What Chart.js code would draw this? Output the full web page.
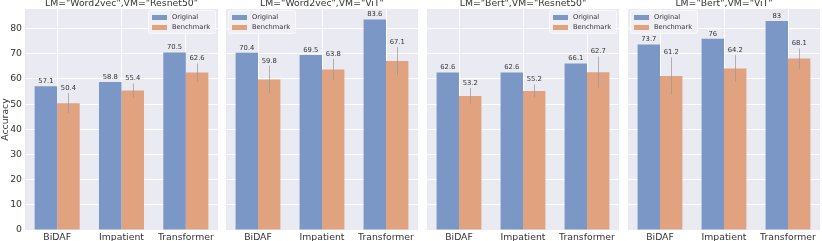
<!DOCTYPE html>
<html>
<head>
<meta charset="utf-8">
<script src="https://cdn.jsdelivr.net/npm/chart.js@4.4.1/dist/chart.umd.min.js"></script>
<style>
body { margin: 0; background: #fff; width: 822px; height: 241px; position: relative; overflow: hidden; }
.panel { position: absolute; top: 0; height: 241px; }
</style>
</head>
<body>
<div class="panel" style="left:0;width:218px"><canvas id="c0"></canvas></div>
<div class="panel" style="left:226px;width:192px"><canvas id="c1"></canvas></div>
<div class="panel" style="left:427px;width:192px"><canvas id="c2"></canvas></div>
<div class="panel" style="left:628px;width:192px"><canvas id="c3"></canvas></div>
<script>
// data
const categories = ["BiDAF", "Impatient", "Transformer"];
const panelTitles = ['LM="Word2vec",VM="Resnet50"', 'LM="Word2vec",VM="ViT"', 'LM="Bert",VM="Resnet50"', 'LM="Bert",VM="ViT"'];
const seriesNames = ["Original", "Benchmark"];
const original = [[57.1, 58.8, 70.5], [70.4, 69.5, 83.6], [62.6, 62.6, 66.1], [73.7, 76, 83]];
const benchmark = [[50.4, 55.4, 62.6], [59.8, 63.8, 67.1], [53.2, 55.2, 62.7], [61.2, 64.2, 68.1]];
const benchmarkErr = [[4, 2.8, 3.6], [5.5, 4.2, 5.6], [3.2, 2.6, 6.2], [7.4, 5.3, 4]];
const yMax = 87.8;
const yStep = 10;
const legendSide = ["right", "left", "right", "left"];

const FONT = "DejaVu Sans";
const TEXT = "#333333";
const BLUE = "#7b97c6";
const ORANGE = "#e1a280";

const panelPlugin = {
    id: 'panel',
    beforeDraw(chart) {
        let a = chart.chartArea;
        let ctx = chart.ctx;
        ctx.save();
        ctx.fillStyle = "#eaeaf2";
        ctx.fillRect(a.left, a.top, a.right - a.left, a.bottom - a.top);
        ctx.restore();
    },
    afterDatasetsDraw(chart) {
        let ctx = chart.ctx;
        let y = chart.scales.y;
        ctx.save();
        chart.data.datasets.forEach(function (ds, di) {
            let meta = chart.getDatasetMeta(di);
            meta.data.forEach(function (bar, i) {
                let v = ds.data[i];
                let e = ds.err ? ds.err[i] : 0;
                if (e) {
                    ctx.strokeStyle = "rgba(150,150,150,0.7)";
                    ctx.lineWidth = 1;
                    ctx.beginPath();
                    ctx.moveTo(Math.round(bar.x) + 0.5, y.getPixelForValue(v - e));
                    ctx.lineTo(Math.round(bar.x) + 0.5, y.getPixelForValue(v + e));
                    ctx.stroke();
                }
                ctx.fillStyle = TEXT;
                ctx.font = "6.8px '" + FONT + "'";
                ctx.textAlign = "center";
                ctx.textBaseline = "bottom";
                ctx.fillText(String(v), bar.x, y.getPixelForValue(v + e) - 1.5);
            });
        });
        ctx.restore();
    },
    afterDraw(chart, args, opts) {
        let a = chart.chartArea;
        let ctx = chart.ctx;
        ctx.save();
        // panel title
        ctx.fillStyle = TEXT;
        ctx.font = "9.3px '" + FONT + "'";
        ctx.textAlign = "center";
        ctx.textBaseline = "middle";
        ctx.fillText(opts.title, (a.left + a.right) / 2, 4);
        // legend
        let px = opts.side === "right" ? a.right - 66 : a.left + 6;
        let bx = px - 4, by = 10, bw = 67, bh = 23;
        ctx.fillStyle = "rgba(240,240,246,0.85)";
        ctx.strokeStyle = "rgba(255,255,255,0.7)";
        ctx.lineWidth = 1;
        ctx.beginPath();
        ctx.roundRect(bx + 0.5, by + 0.5, bw, bh, 2);
        ctx.fill();
        ctx.stroke();
        ctx.font = "6.7px '" + FONT + "'";
        ctx.textAlign = "left";
        chart.data.datasets.forEach(function (ds, di) {
            let ry = 17.5 + di * 10;
            ctx.fillStyle = ds.backgroundColor;
            ctx.fillRect(px, ry - 2.5, 15, 5);
            ctx.fillStyle = TEXT;
            ctx.fillText(ds.label, px + 20, ry);
        });
        ctx.restore();
    }
};

function gerarPainel(idx) {
    let first = idx === 0;
    let elem = document.getElementById("c" + idx).getContext('2d');
    return new Chart(elem, {
        type: 'bar',
        data: {
            labels: categories,
            datasets: [{
                label: seriesNames[0],
                data: original[idx],
                backgroundColor: BLUE,
                borderWidth: 0,
                categoryPercentage: 0.7,
                barPercentage: 1.0
            }, {
                label: seriesNames[1],
                data: benchmark[idx],
                err: benchmarkErr[idx],
                backgroundColor: ORANGE,
                borderWidth: 0,
                categoryPercentage: 0.7,
                barPercentage: 1.0
            }]
        },
        options: {
            responsive: true,
            maintainAspectRatio: false,
            animation: false,
            layout: { padding: { top: 9, left: 0, right: 0, bottom: 0 } },
            plugins: {
                legend: { display: false },
                title: { display: false },
                tooltip: { enabled: false },
                panel: { title: panelTitles[idx], side: legendSide[idx] }
            },
            scales: {
                x: {
                    grid: { color: "#ffffff", lineWidth: 1, offset: false, drawTicks: false },
                    border: { display: false },
                    ticks: { color: TEXT, font: { family: FONT, size: 9.3 }, padding: 2, maxRotation: 0 },
                    afterFit: function (s) { s.height = 11; }
                },
                y: {
                    min: 0,
                    max: yMax,
                    grid: { color: "#ffffff", lineWidth: 1, drawTicks: false },
                    border: { display: false },
                    ticks: { display: first, stepSize: yStep, includeBounds: false, color: TEXT, font: { family: FONT, size: 9.3 }, padding: 3 },
                    title: { display: first, text: "Accuracy", color: TEXT, font: { family: FONT, size: 9.3 }, padding: 0 },
                    afterFit: function (s) { s.width = first ? 25 : 0; }
                }
            }
        },
        plugins: [panelPlugin]
    });
}

window.onload = function () {
    for (let i = 0; i < 4; i++) {
        gerarPainel(i);
    }
};
</script>
</body>
</html>
